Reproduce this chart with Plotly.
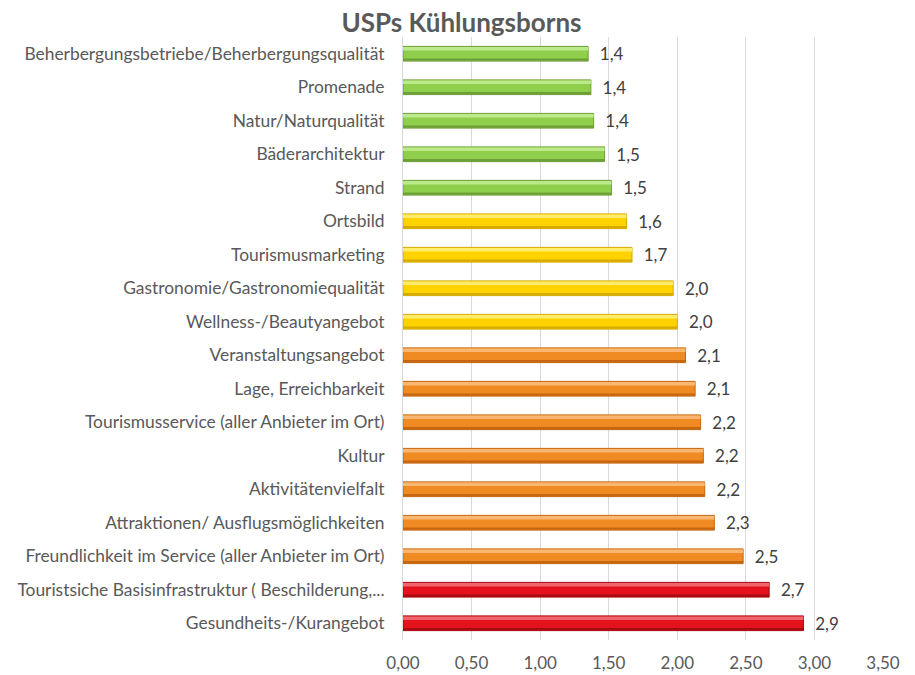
import plotly.graph_objects as go

categories = [
    "Beherbergungsbetriebe/Beherbergungsqualität",
    "Promenade",
    "Natur/Naturqualität",
    "Bäderarchitektur",
    "Strand",
    "Ortsbild",
    "Tourismusmarketing",
    "Gastronomie/Gastronomiequalität",
    "Wellness-/Beautyangebot",
    "Veranstaltungsangebot",
    "Lage, Erreichbarkeit",
    "Tourismusservice (aller Anbieter im Ort)",
    "Kultur",
    "Aktivitätenvielfalt",
    "Attraktionen/ Ausflugsmöglichkeiten",
    "Freundlichkeit im Service (aller Anbieter im Ort)",
    "Touristsiche Basisinfrastruktur ( Beschilderung,...",
    "Gesundheits-/Kurangebot",
]
values = [1.35, 1.37, 1.39, 1.47, 1.52, 1.63, 1.67, 1.97, 2.00, 2.06,
          2.13, 2.17, 2.19, 2.20, 2.27, 2.48, 2.67, 2.92]
groups = ["green"] * 5 + ["yellow"] * 4 + ["orange"] * 7 + ["red"] * 2
tick_values = [0, 0.5, 1.0, 1.5, 2.0, 2.5, 3.0, 3.5]

main_col = {"green": "#8FCF4C", "yellow": "#FFD200", "orange": "#F08A22", "red": "#E3121C"}
light_col = {"green": "#BCE98A", "yellow": "#FFEC6A", "orange": "#F9B772", "red": "#F2646B"}
dark_col = {"green": "#6E9F36", "yellow": "#D6AA00", "orange": "#C6660E", "red": "#A80A12"}

font_family = "Lato, 'Open Sans', sans-serif"

fig = go.Figure()
fig.add_trace(go.Bar(
    y=categories, x=values, orientation="h",
    marker=dict(color=[main_col[g] for g in groups],
                line=dict(color=[dark_col[g] for g in groups], width=1)),
    width=0.44,
    text=values, texttemplate="  %{x:.1f}", textposition="outside",
    constraintext="none",
    textfont=dict(size=17, color="#404040", family=font_family),
    cliponaxis=False, hoverinfo="skip",
))
fig.add_trace(go.Bar(
    y=categories, x=values, orientation="h",
    marker=dict(color=[light_col[g] for g in groups], line=dict(width=0)),
    width=0.1, offset=-0.2,
    hoverinfo="skip",
))
fig.add_trace(go.Bar(
    y=categories, x=values, orientation="h",
    marker=dict(color=[dark_col[g] for g in groups], line=dict(width=0)),
    width=0.07, offset=0.14,
    hoverinfo="skip",
))

fig.update_layout(
    width=907, height=667,
    margin=dict(l=395, r=32, t=29, b=35),
    paper_bgcolor="white", plot_bgcolor="white",
    barmode="overlay", showlegend=False,
    separators=",.",
    title=dict(text="<b>USPs Kühlungsborns</b>", x=0.5, xanchor="center",
               y=0.978, yanchor="middle",
               font=dict(size=26, color="#595959", family=font_family)),
    font=dict(family=font_family, size=17, color="#595959"),
)
fig.update_xaxes(
    range=[0, 3.5], tickvals=tick_values, tickformat=".2f",
    showgrid=True, gridcolor="#D9D9D9", gridwidth=1,
    zeroline=False, showline=False, automargin=False,
    tickfont=dict(size=17, color="#595959"),
    ticks="outside", ticklen=8, tickcolor="rgba(0,0,0,0)",
)
fig.update_yaxes(
    autorange="reversed", showgrid=False, automargin=False,
    showline=True, linecolor="#D9D9D9", linewidth=1,
    ticks="outside", ticklen=14, tickcolor="rgba(0,0,0,0)",
    tickfont=dict(size=17.4, color="#595959"),
)

fig.write_html("out.html")
